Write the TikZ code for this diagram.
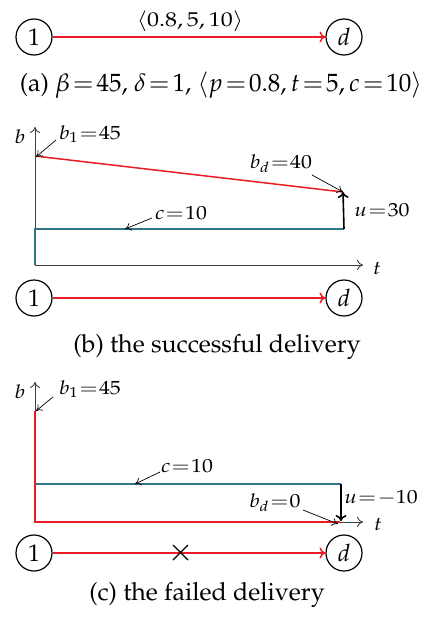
\documentclass[tikz,border=0pt]{standalone}
\usepackage[T1]{fontenc}
\usepackage{mathpazo}
\usepackage{graphicx}
\usetikzlibrary{arrows.meta}
\definecolor{mred}{RGB}{236,28,36}
\definecolor{mteal}{RGB}{46,118,136}
\newcommand\eql{\mkern-4mu=\mkern-4mu}
\newcommand\eqc{\mkern-3mu=\mkern-3mu}
\newcommand\lb[1]{\scalebox{1.15}[1]{$#1$}}
\tikzset{
  nd/.style={circle, draw, line width=1.2pt, minimum size=36pt, inner sep=0pt, font=\fontsize{24}{28}\selectfont},
  redarr/.style={draw=mred, line width=1.5pt, -{To[length=6pt,width=11pt]}},
  axisarr/.style={line width=0.9pt, draw=black!75, -{To[length=6pt,width=10pt]}},
  lab/.style={font=\fontsize{19}{23}\selectfont, inner sep=1pt},
  ptr/.style={line width=0.7pt, -{To[length=6pt,width=8pt]}},
  uarr/.style={line width=1.6pt, -{To[length=6pt,width=11pt]}},
  redline/.style={draw=mred, line width=1.5pt},
  tealline/.style={draw=mteal, line width=1.5pt},
  capt/.style={font=\fontsize{25}{30}\selectfont, inner sep=0pt}
}
\begin{document}
\begin{tikzpicture}[x=1pt,y=-1pt]
\useasboundingbox (0,0) rectangle (426,621);
% ---------- (a)
\node[nd] (a1) at (34,37) {1};
\node[nd] (ad) at (344,37) {$d$};
\draw[redarr] (a1) -- (ad);
\node[lab, font=\fontsize{20}{24}\selectfont] (alab) at (190,21) {\scalebox{1.2}[1]{$\langle 0.8,5,10\rangle$}};
\node[capt] (acap) at (221,85) {(a)\ $\beta\eqc45$, $\delta\eqc1$, $\langle p\eqc0.8, t\eqc5, c\eqc10\rangle$};
% ---------- (b)
\coordinate (bO) at (35,265);
\coordinate (bY) at (35,127);
\coordinate (bX) at (363,265);
\coordinate (bR1) at (35,156);
\coordinate (bR2) at (343,192);
\coordinate (bT1) at (35,229);
\coordinate (bT2) at (344,229);
\coordinate (bC) at (125,229);
\coordinate (bs1) at (56,140);
\coordinate (bsd) at (312,175);
\coordinate (bsc) at (152,218);
\draw[axisarr] (bO) -- (bY);
\draw[axisarr] (bO) -- (bX);
\node[lab] (bb) at (20,137) {\lb{b}};
\node[lab] (bt) at (377,268) {\lb{t}};
\draw[redline] (bR1) -- (bR2);
\draw[tealline] (bO) -- (bT1) -- (bT2);
\draw[uarr] (bT2) -- (bR2);
\node[lab] (bl1) at (90,134) {\lb{b_1\eql45}};
\draw[ptr] (bs1) -- ([xshift=1pt,yshift=-1pt]bR1);
\node[lab] (bld) at (281,164) {\lb{b_d\eql40}};
\draw[ptr] (bsd) -- (bR2);
\node[lab] (bc) at (181,213) {\lb{c\eql10}};
\draw[ptr] (bsc) -- (bC);
\node[lab] (bu) at (382,210) {\lb{u\eql30}};
\node[nd] (b1) at (34,298) {1};
\node[nd] (bd) at (344,298) {$d$};
\draw[redarr] (b1) -- (bd);
\node[capt] (bcap) at (217,347) {(b)\ the successful delivery};
% ---------- (c)
\coordinate (cO) at (35,522);
\coordinate (cY) at (35,382);
\coordinate (cX) at (363,522);
\coordinate (cR1) at (35,411);
\coordinate (cR2) at (340,522);
\coordinate (cT1) at (35,484);
\coordinate (cT2) at (341,484);
\coordinate (cT3) at (341,521);
\coordinate (cC) at (135,484);
\coordinate (cs1) at (53,397);
\coordinate (csc) at (160,472);
\coordinate (csd) at (303,510);
\draw[axisarr] (cO) -- (cY);
\draw[axisarr] (cO) -- (cX);
\node[lab] (cb) at (20,392) {\lb{b}};
\node[lab] (ct) at (378,524) {\lb{t}};
\draw[tealline] (cO) -- (cT1) -- (cT2);
\draw[redline] (cR1) -- (cO) -- (cR2);
\draw[uarr] (cT2) -- (cT3);
\node[lab] (cl1) at (90,389) {\lb{b_1\eql45}};
\draw[ptr] (cs1) -- ([xshift=1pt]cR1);
\node[lab] (cc) at (187,466) {\lb{c\eql10}};
\draw[ptr] (csc) -- (cC);
\node[lab] (cu) at (381,498) {\lb{u\eql{-}10}};
\node[lab] (cld) at (275,503) {\lb{b_d\eql0}};
\draw[ptr] (csd) -- ([xshift=-2pt,yshift=-2pt]cR2);
\node[nd] (c1) at (34,553) {1};
\node[nd] (cd) at (344,553) {$d$};
\draw[redarr] (c1) -- (cd);
\coordinate (x1) at (173,545);
\coordinate (x2) at (188,560);
\coordinate (x3) at (173,560);
\coordinate (x4) at (188,545);
\draw[line width=1.2pt] (x1) -- (x2) (x3) -- (x4);
\node[capt] (ccap) at (207,595) {(c)\ the failed delivery};
\end{tikzpicture}
\end{document}
